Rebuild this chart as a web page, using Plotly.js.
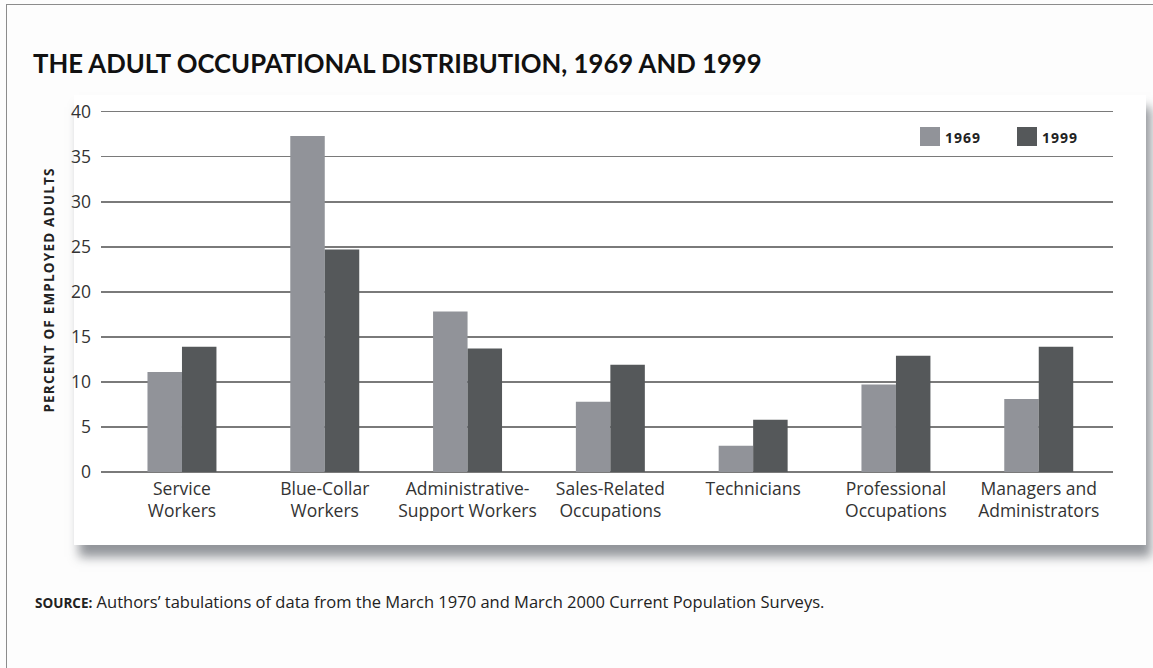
<!DOCTYPE html>
<html>
<head>
<meta charset="utf-8">
<script src="https://cdn.plot.ly/plotly-3.0.1.min.js"></script>
<style>
  html, body { margin: 0; padding: 0; background: #fdfdfd; }
  #frame {
    position: absolute; left: 6px; top: 4px; width: 1147px; height: 664px;
    border-top: 1px solid #8c8c8c; border-left: 1px solid #8c8c8c;
  }
  #panel {
    position: absolute; left: 74px; top: 95px; width: 1072px; height: 450px;
    background: #ffffff;
    box-shadow: 5px 12px 10px rgba(128, 132, 138, 0.85);
  }
  #chart { position: absolute; left: 0; top: 0; width: 1153px; height: 668px; }
  #chart .annotation[data-index="0"] text { letter-spacing: 1.2px; }
  #chart .annotation[data-index="2"] text,
  #chart .annotation[data-index="3"] text { letter-spacing: 1px; }
</style>
</head>
<body>
<div id="frame"></div>
<div id="panel"></div>
<div id="chart"></div>
<script>
// Occupation groups along the x axis
const categories = [
  "Service<br>Workers",
  "Blue-Collar<br>Workers",
  "Administrative-<br>Support Workers",
  "Sales-Related<br>Occupations",
  "Technicians",
  "Professional<br>Occupations",
  "Managers and<br>Administrators"
];

// Percent of employed adults in each group
const share1969 = [11.1, 37.3, 17.8, 7.8, 2.9, 9.7, 8.1];
const share1999 = [13.9, 24.7, 13.7, 11.9, 5.8, 12.9, 13.9];

const seriesNames = ["1969", "1999"];
const seriesColors = ["#919399", "#55585a"];

const yTicks = [0, 5, 10, 15, 20, 25, 30, 35, 40];

const W = 1153, H = 668;
const M = { l: 101, r: 40, t: 108, b: 196 };
const plotW = W - M.l - M.r, plotH = H - M.t - M.b;

// pixel -> paper coordinates, for placing decorations outside the data
const px = x => (x - M.l) / plotW;
const py = y => (H - M.b - y) / plotH;

const xIdx = categories.map((_, i) => i);

const traces = [share1969, share1999].map((vals, k) => ({
  type: "bar",
  name: seriesNames[k],
  x: xIdx,
  y: vals,
  marker: { color: seriesColors[k], line: { width: 0 } },
  showlegend: false,
  hoverinfo: "y"
}));

const tickFont = { family: "Open Sans, sans-serif", size: 17.5, color: "#333333" };

// Legend: swatches and labels at the upper right of the plot
const legendSwatches = [[920, 940], [1017, 1037]];
const legendShapes = legendSwatches.map((s, k) => ({
  type: "rect", xref: "paper", yref: "paper",
  x0: px(s[0]), x1: px(s[1]), y0: py(146), y1: py(127),
  fillcolor: seriesColors[k], line: { width: 0 }
}));
const legendLabels = legendSwatches.map((s, k) => ({
  xref: "paper", yref: "paper",
  x: px(s[1] + 5), y: py(137), xanchor: "left", yanchor: "middle",
  text: "<b>" + seriesNames[k] + "</b>", showarrow: false,
  font: { family: "Open Sans, sans-serif", size: 14, color: "#222222" }
}));

const layout = {
  width: W, height: H,
  margin: M,
  paper_bgcolor: "rgba(0,0,0,0)",
  plot_bgcolor: "rgba(0,0,0,0)",
  barmode: "group",
  bargap: 0.517,
  bargroupgap: 0,
  title: {
    text: "<b>THE ADULT OCCUPATIONAL DISTRIBUTION, 1969 AND 1999</b>",
    xref: "container", yref: "container",
    x: 33 / W, xanchor: "left",
    y: 1 - 64 / H, yanchor: "middle",
    font: { family: "Lato, sans-serif", size: 25.7, weight: 900, color: "#111111" }
  },
  xaxis: {
    range: [-0.567, 6.52],
    tickvals: xIdx,
    ticktext: categories,
    showgrid: false,
    zeroline: false,
    showline: false,
    ticks: "",
    ticklabelstandoff: 4,
    tickfont: tickFont,
    fixedrange: true
  },
  yaxis: {
    range: [0, 40.4],
    tickvals: yTicks,
    ticktext: yTicks.map(String),
    showgrid: true,
    gridcolor: "#7a7a7a",
    gridwidth: 1.6,
    zeroline: true,
    zerolinecolor: "#7a7a7a",
    zerolinewidth: 1.6,
    showline: false,
    ticks: "",
    ticklabelstandoff: 9,
    tickfont: tickFont,
    fixedrange: true
  },
  shapes: legendShapes,
  annotations: [
    {
      xref: "paper", yref: "paper",
      x: px(49), y: py(290), xanchor: "center", yanchor: "middle",
      textangle: -90,
      text: "<b>PERCENT OF EMPLOYED ADULTS</b>", showarrow: false,
      font: { family: "Open Sans, sans-serif", size: 13.5, color: "#222222" }
    },
    {
      xref: "paper", yref: "paper",
      x: px(33), y: py(601), xanchor: "left", yanchor: "middle",
      text: "<b><span style=\"font-size:13.5px\">SOURCE:</span></b> Authors’ tabulations of data from the March 1970 and March 2000 Current Population Surveys.",
      showarrow: false,
      font: { family: "Open Sans, sans-serif", size: 16.5, color: "#222222" }
    },
    ...legendLabels
  ]
};

Plotly.newPlot("chart", traces, layout, { displayModeBar: false, staticPlot: true });
</script>
</body>
</html>
